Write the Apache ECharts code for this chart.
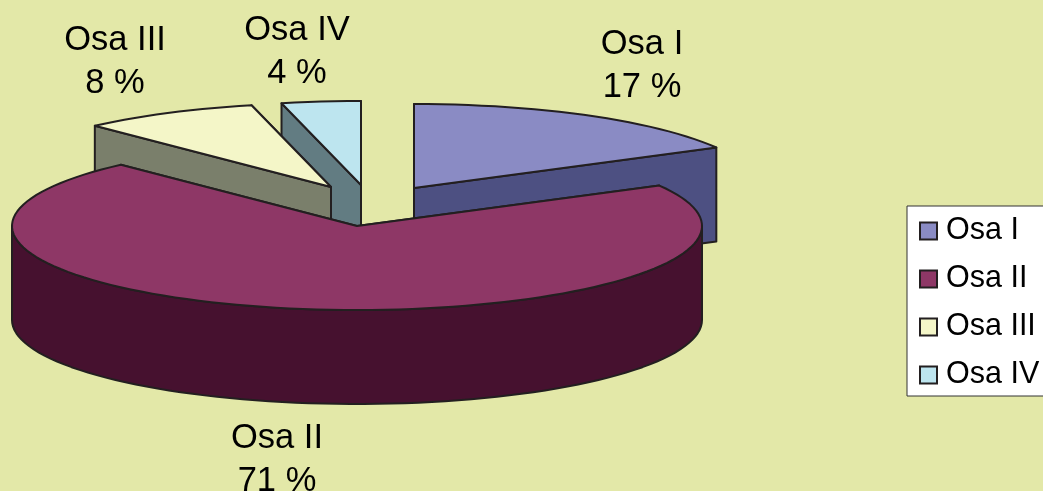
<!DOCTYPE html>
<html>
<head>
<meta charset="utf-8">
<style>html,body{margin:0;padding:0;background:#e3e8a8;overflow:hidden}#c{width:1043px;height:491px}</style>
<script src="https://cdn.jsdelivr.net/npm/echarts@6/dist/echarts.min.js"></script>
</head>
<body>
<div id="c"></div>
<script>
const categories = ['Osa I', 'Osa II', 'Osa III', 'Osa IV'];
const values = [17, 71, 8.3, 3.7];
const topColors = ['#8a8bc4', '#8e3766', '#f4f6c8', '#bde5ef'];
const sideColors = ['#4d5082', '#46112f', '#7a7f6b', '#627c82'];
const apexes = [[414, 188], [357, 226], [331, 187], [361, 185]];
const labelCentres = [[642, 44], [277, 438], [115, 40], [297, 30]];
const drawOrder = [0, 3, 2, 1];
const RX = 345, RY = 84, DEPTH = 94, EDGE = '#231f20';

const total = values.reduce((a, b) => a + b, 0);
const startAngles = [];
values.reduce((acc, v, i) => { startAngles[i] = acc; return acc + v / total * Math.PI * 2; }, 0);

function rim(c, a, dz) { return [c[0] + RX * Math.sin(a), c[1] - RY * Math.cos(a) + (dz || 0)]; }
function arc(c, a0, a1, dz) {
  const n = Math.max(2, Math.ceil((a1 - a0) / 0.04)), pts = [];
  for (let k = 0; k <= n; k++) pts.push(rim(c, a0 + (a1 - a0) * k / n, dz));
  return pts;
}
function poly(points, fill) {
  return { type: 'polygon', shape: { points }, style: { fill, stroke: EDGE, lineWidth: 2, lineJoin: 'round' } };
}
function radialWall(c, a, fill) {
  const r = rim(c, a);
  return poly([c, r, [r[0], r[1] + DEPTH], [c[0], c[1] + DEPTH]], fill);
}
function makeRender(i) {
  return function (params, api) {
    const sweep = api.value(0) / total * Math.PI * 2;
    const c = apexes[i], a0 = startAngles[i], a1 = a0 + sweep;
    const children = [radialWall(c, a1, sideColors[i]), radialWall(c, a0, sideColors[i])];
    const f0 = Math.max(a0, Math.PI / 2), f1 = Math.min(a1, Math.PI * 1.5);
    if (f1 > f0) {
      children.push(poly(arc(c, f0, f1, 0).concat(arc(c, f0, f1, DEPTH).reverse()), sideColors[i]));
    }
    children.push(poly([c].concat(arc(c, a0, a1, 0)), topColors[i]));
    return { type: 'group', children };
  };
}
function labelElements() {
  return categories.map((name, i) => ({
    type: 'text', x: labelCentres[i][0], y: labelCentres[i][1] - 21, silent: true,
    style: {
      text: name + '\n' + Math.round(values[i] / total * 100) + ' %',
      align: 'center', fill: '#000',
      font: '34.5px "Liberation Sans", Arial, sans-serif', lineHeight: 43
    }
  }));
}
const chart = echarts.init(document.getElementById('c'), null, { renderer: 'canvas' });
chart.setOption({
  backgroundColor: '#e3e8a8',
  animation: false,
  legend: {
    data: categories, orient: 'vertical', left: 907, top: 206,
    backgroundColor: '#ffffff', borderColor: '#333333', borderWidth: 1,
    padding: [8, 12, 4, 12], itemWidth: 17, itemHeight: 17, itemGap: 14,
    icon: 'rect', selectedMode: false,
    textStyle: { fontSize: 30.5, color: '#000', fontFamily: '"Liberation Sans", Arial, sans-serif', padding: [0, 0, 0, 4], lineHeight: 34 }
  },
  graphic: labelElements(),
  series: drawOrder.map(i => ({
    type: 'custom', name: categories[i], coordinateSystem: 'none',
    itemStyle: { color: topColors[i], borderColor: EDGE, borderWidth: 2 },
    data: [[values[i]]], renderItem: makeRender(i), silent: true
  }))
});
</script>
</body>
</html>
